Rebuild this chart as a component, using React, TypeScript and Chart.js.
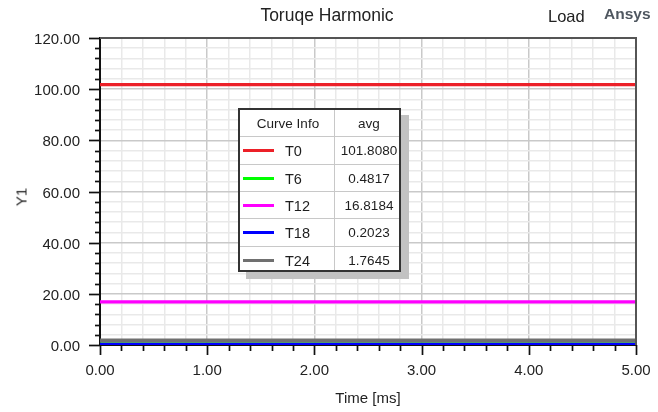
import React, { useEffect, useRef } from "react";
import { Chart, registerables } from "chart.js";

Chart.register(...registerables);

// ---- data ----
const curveNames = ["T0", "T6", "T12", "T18", "T24"];
const avgValues = [101.808, 0.4817, 16.8184, 0.2023, 1.7645];
const avgLabels = ["101.8080", "0.4817", "16.8184", "0.2023", "1.7645"];
const timeRange = [0, 5];
const curveColors = ["#ec2028", "#00ff00", "#ff00ff", "#0000ff", "#707070"];
const curveWidths = [3.3, 3, 3.3, 3.6, 4];
const drawOrder = [4, 3, 2, 1, 0];
const yRange = [0, 120];
const yMajorStep = 20;
const yMinorStep = 4;
const xMajorStep = 1;
const xMinorStep = 0.2;

const FONT = "Arial, 'Liberation Sans', sans-serif";

const isMajor = (v: number, step: number) => {
  const r = v / step;
  return Math.abs(r - Math.round(r)) < 1e-6;
};

const framePlugin = {
  id: "frameTicks",
  afterDraw(chart: any) {
    const { ctx, chartArea: a, scales } = chart;
    ctx.save();
    ctx.strokeStyle = "#555";
    ctx.lineWidth = 2;
    ctx.beginPath();
    ctx.moveTo(a.left, a.top);
    ctx.lineTo(a.right, a.top);
    ctx.lineTo(a.right, a.bottom);
    ctx.stroke();

    ctx.strokeStyle = "#111";
    ctx.lineWidth = 1.7;
    const xs = scales.x;
    xs.ticks.forEach((t: any) => {
      const p = Math.round(xs.getPixelForValue(t.value)) + 0.5;
      const len = isMajor(t.value, xMajorStep) ? 10 : 6;
      ctx.beginPath();
      ctx.moveTo(p, a.bottom);
      ctx.lineTo(p, a.bottom + len);
      ctx.stroke();
    });
    const ys = scales.y;
    ys.ticks.forEach((t: any) => {
      const p = Math.round(ys.getPixelForValue(t.value)) + 0.5;
      const len = isMajor(t.value, yMajorStep) ? 11 : 5;
      ctx.beginPath();
      ctx.moveTo(a.left, p);
      ctx.lineTo(a.left - len, p);
      ctx.stroke();
    });
    ctx.restore();
  },
};

export default function App() {
  const ref = useRef<HTMLCanvasElement | null>(null);

  useEffect(() => {
    if (!ref.current) return;
    const datasets = curveNames.map((name, i) => ({
      label: name,
      data: timeRange.map((t) => ({ x: t, y: avgValues[i] })),
      borderColor: curveColors[i],
      backgroundColor: curveColors[i],
      borderWidth: curveWidths[i],
      pointRadius: 0,
      order: drawOrder[i],
    }));
    const chart = new Chart(ref.current, {
      type: "line",
      data: { datasets },
      options: {
        animation: false,
        responsive: false,
        maintainAspectRatio: false,
        layout: { padding: { top: 38, right: 22, left: 0, bottom: 0 } },
        plugins: {
          legend: { display: false },
          tooltip: { enabled: false },
          title: { display: false },
        },
        scales: {
          x: {
            type: "linear",
            min: timeRange[0],
            max: timeRange[1],
            afterFit: (s: any) => {
              s.height = 67;
            },
            ticks: {
              stepSize: xMinorStep,
              autoSkip: false,
              maxRotation: 0,
              padding: 7,
              color: "#222",
              font: { family: FONT, size: 15 },
              callback: (v: any) => (isMajor(Number(v), xMajorStep) ? Number(v).toFixed(2) : ""),
            },
            grid: {
              color: (c: any) => (c.tick && isMajor(c.tick.value, xMajorStep) ? "#c9c9c9" : "#e9e9e9"),
              lineWidth: 1.5,
              drawTicks: true,
              tickLength: 10,
              tickColor: "transparent",
            },
            border: { display: true, color: "#111", width: 2 },
          },
          y: {
            type: "linear",
            min: yRange[0],
            max: yRange[1],
            afterFit: (s: any) => {
              s.width = 100;
            },
            ticks: {
              stepSize: yMinorStep,
              autoSkip: false,
              padding: 9,
              labelOffset: 2,
              color: "#222",
              font: { family: FONT, size: 15 },
              callback: (v: any) => (isMajor(Number(v), yMajorStep) ? Number(v).toFixed(2) : ""),
            },
            grid: {
              color: (c: any) => (c.tick && isMajor(c.tick.value, yMajorStep) ? "#c9c9c9" : "#e9e9e9"),
              lineWidth: 1.5,
              drawTicks: true,
              tickLength: 11,
              tickColor: "transparent",
            },
            border: { display: true, color: "#111", width: 2 },
          },
        },
      },
      plugins: [framePlugin],
    });
    return () => chart.destroy();
  }, []);

  const txt: React.CSSProperties = { position: "absolute", fontFamily: FONT, whiteSpace: "nowrap", lineHeight: 1 };
  const rowH = 27.3;

  return (
    <div style={{ position: "fixed", left: 0, top: 0, width: 658, height: 412, background: "#fff", overflow: "hidden" }}>
      <canvas ref={ref} width={658} height={412} style={{ position: "absolute", left: 0, top: 0, width: 658, height: 412 }} />
      <div style={{ ...txt, left: 327, top: 7, transform: "translateX(-50%)", fontSize: 17.5, color: "#222" }}>Toruqe Harmonic</div>
      <div style={{ ...txt, left: 548, top: 8, fontSize: 16.5, color: "#222" }}>Load</div>
      <div style={{ ...txt, left: 604, top: 6, fontSize: 15.5, fontWeight: "bold", color: "#4f5760" }}>Ansys</div>
      <div style={{ ...txt, left: 368, top: 390, transform: "translateX(-50%)", fontSize: 15, color: "#222" }}>Time [ms]</div>
      <div style={{ ...txt, left: 21, top: 197, transform: "translate(-50%, -50%) rotate(-90deg)", fontSize: 15, color: "#222" }}>Y1</div>

      <div
        style={{
          position: "absolute",
          left: 238,
          top: 108,
          width: 163,
          height: 164,
          boxSizing: "border-box",
          border: "2px solid #333",
          background: "#fff",
          boxShadow: "8px 7px 0 #c2c2c2",
          fontFamily: FONT,
          color: "#1e1e1e",
        }}
      >
        {[-1, 0, 1, 2, 3, 4].map((r) => (
          <div
            key={r}
            style={{
              position: "absolute",
              left: 0,
              top: (r + 1) * rowH - 1,
              width: 159,
              height: rowH,
              borderTop: r >= 0 ? "1px solid #c8c8c8" : "none",
              boxSizing: "border-box",
            }}
          >
            {r < 0 ? (
              <>
                <div style={{ ...txt, left: 48, top: 8, transform: "translateX(-50%)", fontSize: 13.5 }}>Curve Info</div>
                <div style={{ ...txt, left: 129, top: 8, transform: "translateX(-50%)", fontSize: 13.5 }}>avg</div>
              </>
            ) : (
              <>
                <div style={{ position: "absolute", left: 3, top: 12, width: 31, height: 3, background: curveColors[r] }} />
                <div style={{ ...txt, left: 45, top: 7, fontSize: 14.5 }}>{curveNames[r]}</div>
                <div style={{ ...txt, left: 129, top: 7, transform: "translateX(-50%)", fontSize: 13.5 }}>{avgLabels[r]}</div>
              </>
            )}
          </div>
        ))}
        <div style={{ position: "absolute", left: 94, top: 0, width: 1, height: 160, background: "#c8c8c8" }} />
      </div>
    </div>
  );
}
